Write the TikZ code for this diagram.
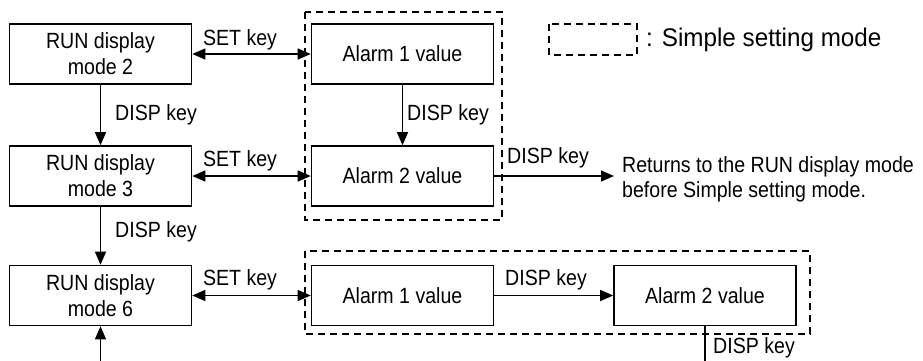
\documentclass[tikz,border=0pt]{standalone}
\usepackage{fontspec}
\setmainfont[FakeStretch=0.89]{Liberation Sans}
\newfontfamily\legendfont[FakeStretch=0.95]{Liberation Sans}
\usetikzlibrary{arrows.meta}
\begin{document}
\begin{tikzpicture}[x=1pt,y=-1pt,
  box/.style={draw,line width=1.6pt,minimum width=182pt,minimum height=60pt,inner sep=0pt,
    align=center,font=\fontsize{22}{26}\selectfont},
  group/.style={draw,line width=1.5pt,dash pattern=on 7pt off 5pt},
  conn/.style={line width=1.3pt,-{Triangle[length=13pt,width=11pt]}},
  both/.style={line width=1.3pt,{Triangle[length=13pt,width=11pt]}-{Triangle[length=13pt,width=11pt]}},
  lbl/.style={inner sep=0pt,font=\fontsize{22}{25}\selectfont},
  ]
\useasboundingbox (0,0) rectangle (923,360);
\clip (0,0) rectangle (923,360);
\fill[white] (0,0) rectangle (923,360);

% simple setting mode groups and legend
\draw[group] (305,12) rectangle (502,220);
\draw[group] (305,251) rectangle (810,334);
\draw[group] (549,24) rectangle (637,55);
\node[lbl,anchor=west,font=\legendfont\fontsize{25.5}{30}\selectfont] (legend) at (646,40) {: Simple setting mode};

% RUN display modes
\node[box] (m2) at (100.5,54) {RUN display\\mode 2};
\node[box] (m3) at (100.5,176) {RUN display\\mode 3};
\node[box] (m6) at (100.5,295.5) {RUN display\\mode 6};

% alarm value screens
\node[box] (a1) at (402.5,54) {Alarm 1 value};
\node[box] (a2) at (402.5,176) {Alarm 2 value};
\node[box] (b1) at (402.5,295.5) {Alarm 1 value};
\node[box] (b2) at (705,295.5) {Alarm 2 value};

\node[lbl,anchor=west,align=left] (ret) at (622,179.5) {Returns to the RUN display mode\\before Simple setting mode.};
\coordinate (retin) at (614,176);
\coordinate (b2out) at (705,372);
\coordinate (m6in) at (100.5,372);

% connectors
\draw[both] (m2) -- (a1);
\draw[both] (m3) -- (a2);
\draw[both] (m6) -- (b1);
\draw[conn] (m2) -- (m3);
\draw[conn] (m3) -- (m6);
\draw[conn] (a1) -- (a2);
\draw[conn] (a2) -- (retin);
\draw[conn] (b1) -- (b2);
\draw[line width=1.3pt] (b2) -- (b2out);
\draw[conn] (m6in) -- (m6);

% key labels
\node[lbl] (s1) at (240,40) {SET key};
\node[lbl] (s2) at (240,161) {SET key};
\node[lbl] (s3) at (240,280) {SET key};
\node[lbl,anchor=west] (d1) at (115,115) {DISP key};
\node[lbl,anchor=west] (d2) at (115,232) {DISP key};
\node[lbl,anchor=west] (d3) at (407,115) {DISP key};
\node[lbl,anchor=west] (d4) at (507,158) {DISP key};
\node[lbl,anchor=west] (d5) at (505,280) {DISP key};
\node[lbl,anchor=west] (d6) at (713,348) {DISP key};
\end{tikzpicture}
\end{document}
